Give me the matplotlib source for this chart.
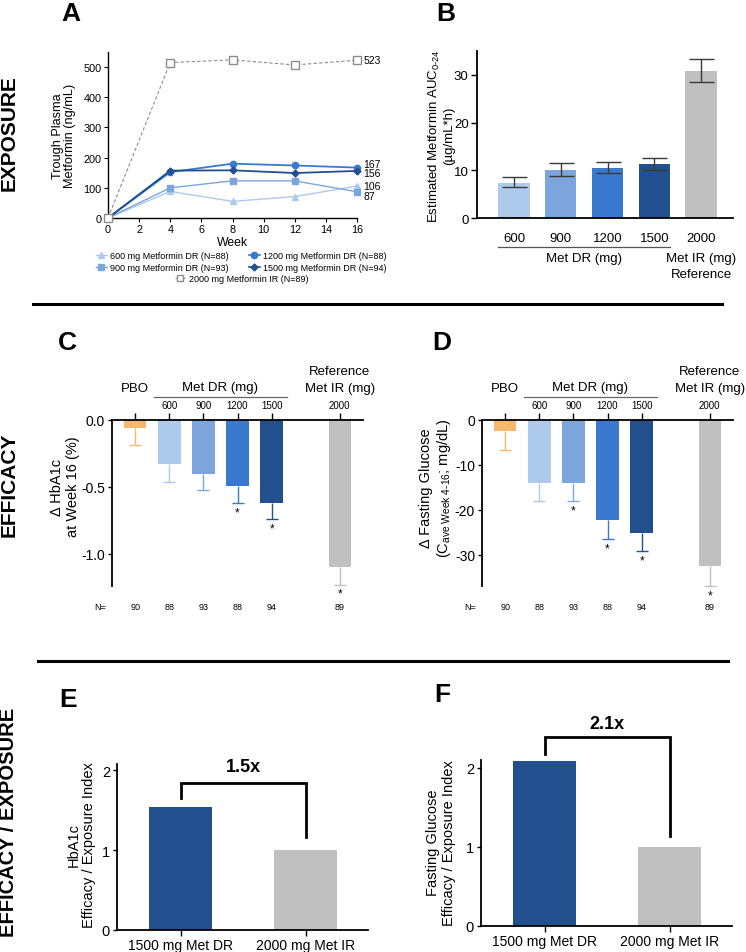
import matplotlib
matplotlib.use("Agg")
import matplotlib.pyplot as plt
import matplotlib.transforms as mtransforms
from matplotlib.lines import Line2D
import numpy as np

plt.rcParams['font.family'] = ['Liberation Sans', 'DejaVu Sans']
plt.rcParams['axes.unicode_minus'] = False
plt.rcParams['mathtext.fontset'] = 'custom'
plt.rcParams['mathtext.rm'] = 'Liberation Sans'
plt.rcParams['mathtext.it'] = 'Liberation Sans:italic'
plt.rcParams['mathtext.default'] = 'regular'

# ---------------- data ----------------
# Panel A: trough plasma metformin (ng/mL) by week
weeks = [0, 4, 8, 12, 16]
a_600 = [0, 88, 55, 71, 106]
a_900 = [0, 100, 123, 123, 87]
a_1200 = [0, 152, 180, 174, 167]
a_1500 = [0, 157, 158, 149, 156]
a_2000ir = [0, 515, 524, 507, 523]
a_labels = ["600 mg Metformin DR (N=88)", "900 mg Metformin DR (N=93)",
            "1200 mg Metformin DR (N=88)", "1500 mg Metformin DR (N=94)",
            "2000 mg Metformin IR (N=89)"]
a_end_labels = ["523", "167", "156", "106", "87"]

# Panel B: estimated AUC0-24 (ug/mL*h)
b_cats = ["600", "900", "1200", "1500", "2000"]
b_vals = [7.4, 10.1, 10.5, 11.3, 30.8]
b_low = [6.5, 8.8, 9.4, 10.1, 28.5]
b_high = [8.5, 11.6, 11.7, 12.5, 33.3]

# Panel C/D: change from baseline
cd_cats = ["PBO", "600", "900", "1200", "1500", "2000"]
cd_pos = [0, 1, 2, 3, 4, 6]
cd_n = ["90", "88", "93", "88", "94", "89"]
c_vals = [-0.06, -0.33, -0.40, -0.49, -0.62, -1.10]
c_err_end = [-0.19, -0.46, -0.52, -0.62, -0.74, -1.23]
c_sig = [False, False, False, True, True, True]
d_vals = [-2.5, -13.9, -14.1, -22.3, -25.1, -32.5]
d_err_end = [-6.6, -18.1, -18.0, -26.5, -29.1, -36.9]
d_sig = [False, False, True, True, True, True]

# Panel E/F: efficacy / exposure index
ef_cats = ["1500 mg Met DR", "2000 mg Met IR"]
e_vals = [1.54, 1.0]
f_vals = [2.09, 1.0]
e_ratio = "1.5x"
f_ratio = "2.1x"

# ---------------- styles ----------------
c_pbo = '#F5B86C'
c_600 = '#ADCAEC'
c_900 = '#7CA5DC'
c_1200 = '#3A79D0'
c_1500 = '#22508F'
c_gray = '#C0C0C0'
bar_cols_b = [c_600, c_900, c_1200, c_1500, c_gray]
bar_cols_cd = [c_pbo, c_600, c_900, c_1200, c_1500, c_gray]

W, H = 746, 953
fig = plt.figure(figsize=(W / 100, H / 100), dpi=100)


def fx(x):
    return x / W


def fy(y):
    return 1 - y / H


def add_ax(l, t, r, b):
    return fig.add_axes([l / W, 1 - b / H, (r - l) / W, (b - t) / H])


def style_lb(ax, lw=1.0):
    for s in ['top', 'right']:
        ax.spines[s].set_visible(False)
    for s in ['left', 'bottom']:
        ax.spines[s].set_linewidth(lw)


# ---------------- Panel A ----------------
axA = add_ax(108, 53, 357, 219)
style_lb(axA, 1.0)
axA.plot(weeks, a_600, color=c_600, marker='^', ms=4.5, lw=1.0, clip_on=False, zorder=3)
axA.plot(weeks, a_900, color=c_900, marker='s', ms=4.5, lw=1.0, clip_on=False, zorder=3)
axA.plot(weeks, a_1200, color=c_1200, marker='o', ms=4.5, lw=1.3, clip_on=False, zorder=3)
axA.plot(weeks, a_1500, color=c_1500, marker='D', ms=3.5, lw=1.3, clip_on=False, zorder=3)
axA.plot(weeks, a_2000ir, color='#8C8C8C', marker='s', ms=5.5, mfc='white', mec='#8C8C8C',
         lw=0.8, ls=(0, (3, 2)), clip_on=False, zorder=3)
axA.set_xlim(0, 16)
axA.set_ylim(0, 550)
axA.set_xticks(range(0, 17, 2))
axA.set_yticks(range(0, 501, 100))
axA.tick_params(labelsize=7.8, length=3, width=0.8, pad=1.5)
axA.set_xlabel("Week", fontsize=8.8, labelpad=1)
end_vals = [a_2000ir[-1], a_1200[-1], a_1500[-1], a_600[-1], a_900[-1]]
end_dy = [0, 2.5, -1.5, 0, -3]
for txt, v, dy in zip(a_end_labels, end_vals, end_dy):
    axA.annotate(txt, (16, v), xytext=(4.5, dy), textcoords='offset points',
                 va='center', ha='left', fontsize=7.5, annotation_clip=False)
fig.text(fx(64), fy(136), "Trough Plasma\nMetformin (ng/mL)", rotation=90,
         ha='center', va='center', fontsize=9.2, multialignment='center', linespacing=1.1)

hA = [Line2D([], [], color=c_600, marker='^', ms=4.5, lw=1.0),
      Line2D([], [], color=c_900, marker='s', ms=4.5, lw=1.0),
      Line2D([], [], color=c_1200, marker='o', ms=4.5, lw=1.2),
      Line2D([], [], color=c_1500, marker='D', ms=3.5, lw=1.2)]
leg1 = fig.legend(hA, a_labels[:4], ncol=2, loc='upper left',
                  bbox_to_anchor=(fx(96), fy(252)), frameon=False, fontsize=6.5,
                  handlelength=1.2, handletextpad=0.4, columnspacing=2.2,
                  labelspacing=0.3, borderpad=0, borderaxespad=0)
hIR = [Line2D([], [], color='#8C8C8C', marker='s', ms=5, mfc='white', lw=0.8, ls=(0, (2, 1.5)))]
leg2 = fig.legend(hIR, a_labels[4:], loc='upper left', bbox_to_anchor=(fx(175), fy(275)),
                  frameon=False, fontsize=6.5, handlelength=1.2, handletextpad=0.4,
                  borderpad=0, borderaxespad=0)

# ---------------- Panel B ----------------
axB = add_ax(477, 52, 733, 219)
style_lb(axB, 1.3)
xb = np.arange(len(b_cats))
bv = np.array(b_vals)
axB.bar(xb, bv, width=0.67, color=bar_cols_b, zorder=2)
axB.errorbar(xb, bv, yerr=[bv - np.array(b_low), np.array(b_high) - bv], fmt='none',
             ecolor='#3a3a3a', elinewidth=1.0, capsize=9, capthick=1.0, zorder=3)
axB.set_xlim(-0.79, 4.68)
axB.set_ylim(0, 35)
axB.set_yticks([0, 10, 20, 30])
axB.set_xticks(xb)
axB.set_xticklabels(b_cats)
axB.tick_params(axis='x', length=0, pad=10, labelsize=9.5)
axB.tick_params(axis='y', length=4, width=1.0, labelsize=9.5, pad=2)
trB = mtransforms.blended_transform_factory(axB.transData, fig.transFigure)
axB.add_line(Line2D([-0.335, 3.335], [fy(248), fy(248)], transform=trB, color='#555555',
                    lw=0.9, clip_on=False))
axB.text(1.5, fy(259), "Met DR (mg)", transform=trB, ha='center', va='center', fontsize=9.5)
axB.text(4, fy(259), "Met IR (mg)", transform=trB, ha='center', va='center', fontsize=9.5)
axB.text(4, fy(275), "Reference", transform=trB, ha='center', va='center', fontsize=9.5)
fig.text(fx(441), fy(136), "Estimated Metformin AUC$_{0\u201024}$\n(\u00b5g/mL*h)", rotation=90,
         ha='center', va='center', fontsize=9.5, multialignment='center', linespacing=1.1)


# ---------------- Panel C / D ----------------
def efficacy_panel(ax, vals, err_end, sig, ylim, yticks, yticklabels, star_off):
    ax.spines['bottom'].set_visible(False)
    ax.spines['right'].set_visible(False)
    ax.spines['left'].set_linewidth(1.3)
    ax.spines['top'].set_linewidth(1.3)
    v = np.array(vals)
    e = np.array(err_end)
    ax.bar(cd_pos, v, width=0.66, color=bar_cols_cd, zorder=2)
    for p, vi, ei, col in zip(cd_pos, v, e, bar_cols_cd):
        # one-sided (downward) error bar with a cap only at the lower end
        ax.errorbar([p], [vi], yerr=[[vi - ei], [0]], fmt='none', ecolor=col,
                    elinewidth=1.0, capsize=0, zorder=1)
        ax.plot([p], [ei], marker='_', ms=8, mew=1.0, color=col, zorder=1, clip_on=False)
    for p, ei, s in zip(cd_pos, e, sig):
        if s:
            ax.annotate("*", (p, ei), xytext=(0, star_off), textcoords='offset points',
                        ha='center', va='center', fontsize=8.5, annotation_clip=False)
    ax.set_xlim(-0.68, 6.68)
    ax.set_ylim(*ylim)
    ax.set_yticks(yticks)
    ax.set_yticklabels(yticklabels)
    ax.xaxis.tick_top()
    ax.set_xticks(cd_pos)
    ax.set_xticklabels([""] + cd_cats[1:])
    ax.tick_params(axis='x', length=5, width=1.0, labelsize=7, pad=2)
    ax.tick_params(axis='y', length=3, width=1.0, labelsize=10, pad=2)
    tr = mtransforms.blended_transform_factory(ax.transData, fig.transFigure)
    ax.text(0, fy(389), cd_cats[0], transform=tr, ha='center', va='center', fontsize=9.5)
    ax.text(2.5, fy(388), "Met DR (mg)", transform=tr, ha='center', va='center', fontsize=9.5)
    ax.add_line(Line2D([0.56, 4.44], [fy(398), fy(398)], transform=tr, color='#666666',
                       lw=0.9, clip_on=False))
    ax.text(6, fy(372), "Reference", transform=tr, ha='center', va='center', fontsize=9.5)
    ax.text(6, fy(389), "Met IR (mg)", transform=tr, ha='center', va='center', fontsize=9.5)
    ax.text(-1.03, fy(607), "N=", transform=tr, ha='center', va='center', fontsize=6.5)
    for p, n in zip(cd_pos, cd_n):
        ax.text(p, fy(607), n, transform=tr, ha='center', va='center', fontsize=6.5)


axC = add_ax(112, 421, 363, 587)
efficacy_panel(axC, c_vals, c_err_end, c_sig, (-1.24, 0), [0, -0.5, -1.0],
               ["0.0", "-0.5", "-1.0"], -6.5)
fig.text(fx(65), fy(487), "\u0394 HbA1c\nat Week 16 (%)", rotation=90, ha='center',
         va='center', fontsize=10.5, multialignment='center', linespacing=1.1)

axD = add_ax(482, 421, 733, 587)
efficacy_panel(axD, d_vals, d_err_end, d_sig, (-36.9, 0), [0, -10, -20, -30],
               ["0", "-10", "-20", "-30"], -7)
fig.text(fx(436), fy(488),
         "\u0394 Fasting Glucose\n(C$_{ave\\ Week\\ 4\u201016}$; mg/dL)", rotation=90,
         ha='center', va='center', fontsize=10.5, multialignment='center', linespacing=1.1)


# ---------------- Panel E / F ----------------
def index_panel(ax, vals, ylim, bracket, ratio_txt, ratio_y):
    style_lb(ax, 1.3)
    ax.bar([0, 1], vals, width=0.5, color=[c_1500, c_gray], zorder=2)
    ax.set_xlim(-0.51, 1.50)
    ax.set_ylim(*ylim)
    ax.set_yticks([0, 1, 2])
    ax.set_xticks([0, 1])
    ax.set_xticklabels(ef_cats)
    ax.tick_params(axis='x', length=4, width=1.0, labelsize=10, pad=2)
    ax.tick_params(axis='y', length=3, width=1.0, labelsize=10.5, pad=2)
    l0, top, l1 = bracket
    ax.plot([0, 0, 1, 1], [l0, top, top, l1], color='black', lw=2.0, clip_on=False,
            solid_joinstyle='miter')
    ax.text(0.5, ratio_y, ratio_txt, ha='center', va='center', fontsize=13,
            fontweight='bold', clip_on=False)


axE = add_ax(117, 765, 368, 931)
index_panel(axE, e_vals, (0, 2.08), (1.65, 1.84, 1.16), e_ratio, 2.05)
fig.text(fx(81), fy(845), "HbA1c\nEfficacy / Exposure Index", rotation=90, ha='center',
         va='center', fontsize=10.5, multialignment='center', linespacing=1.1)

axF = add_ax(481, 761, 732, 927)
index_panel(axF, f_vals, (0, 2.10), (2.18, 2.39, 1.14), f_ratio, 2.56)
fig.text(fx(441), fy(843), "Fasting Glucose\nEfficacy / Exposure Index", rotation=90,
         ha='center', va='center', fontsize=10.5, multialignment='center', linespacing=1.1)

# ---------------- decorations ----------------
fig.add_artist(Line2D([fx(33), fx(722)], [fy(305), fy(305)], lw=2.2, color='black'))
fig.add_artist(Line2D([fx(38), fx(728)], [fy(662), fy(662)], lw=2.2, color='black'))

for txt, x, y, fs in [("EXPOSURE", 9, 133, 15), ("EFFICACY", 9, 485, 15),
                      ("EFFICACY / EXPOSURE", 9, 822, 14.5)]:
    fig.text(fx(x), fy(y), txt, rotation=90, ha='center', va='center', fontsize=fs,
             fontweight='bold')

for txt, x, y in [("A", 71, 14), ("B", 446, 14), ("C", 67, 343), ("D", 442, 343),
                  ("E", 68, 700), ("F", 442, 695)]:
    fig.text(fx(x), fy(y), txt, ha='center', va='center', fontsize=19, fontweight='bold')

fig.savefig("out.png", dpi=100)
